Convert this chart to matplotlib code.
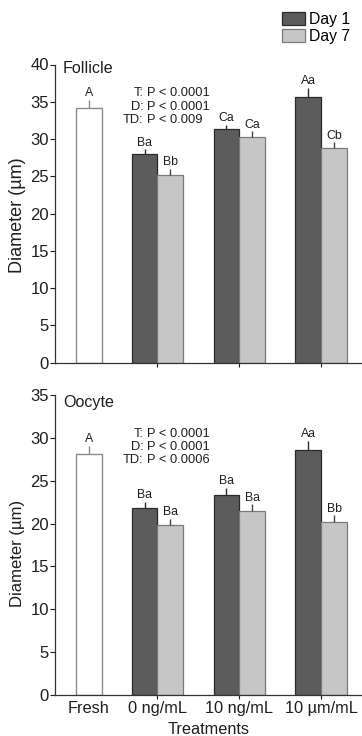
import matplotlib
matplotlib.use("Agg")
import matplotlib.pyplot as plt
from matplotlib.patches import Patch
import numpy as np

plt.rcParams['font.family'] = ['Liberation Sans', 'DejaVu Sans']

treatments = ["0 ng/mL", "10 ng/mL", "10 µm/mL"]
tick_labels = ["Fresh", "0 ng/mL", "10 ng/mL", "10 µm/mL"]

# Follicle
fol_fresh, fol_fresh_err = 34.2, 1.1
fol_day1 = [28.0, 31.3, 35.7]
fol_day1_err = [0.65, 0.6, 1.2]
fol_day7 = [25.2, 30.3, 28.8]
fol_day7_err = [0.8, 0.75, 0.75]
fol_fresh_lbl = "A"
fol_day1_lbl = ["Ba", "Ca", "Aa"]
fol_day7_lbl = ["Bb", "Ca", "Cb"]
fol_stats = [("T:", "P < 0.0001"), ("D:", "P < 0.0001"), ("TD:", "P < 0.009")]

# Oocyte
ooc_fresh, ooc_fresh_err = 28.1, 1.0
ooc_day1 = [21.8, 23.3, 28.6]
ooc_day1_err = [0.75, 0.9, 1.05]
ooc_day7 = [19.8, 21.5, 20.2]
ooc_day7_err = [0.75, 0.75, 0.8]
ooc_fresh_lbl = "A"
ooc_day1_lbl = ["Ba", "Ba", "Aa"]
ooc_day7_lbl = ["Ba", "Ba", "Bb"]
ooc_stats = [("T:", "P < 0.0001"), ("D:", "P < 0.0001"), ("TD:", "P < 0.0006")]

W, H = 362, 736
fig = plt.figure(figsize=(W / 100, H / 100), dpi=100)

def fx(x):
    return x / W

def fy(y):
    return 1 - y / H

DARK = "#5c5c5c"
LIGHT = "#c6c6c6"
TXT = "#1e1e1e"
bw = 0.317
fresh_x = 0.165
grp_x = np.array([1.0, 2.0, 3.0])

def panel(rect, ymax, fresh, fresh_err, d1, d1e, d7, d7e, flbl, l1, l7, title, title_top,
          stats, stat_y, show_x, ylab_fs, ylab_y):
    ax = fig.add_axes(rect)
    ax.set_xlim(-0.25, 3.494)
    ax.set_ylim(0, ymax)
    ax.bar([fresh_x], [fresh], width=bw, color="white", edgecolor="#8a8a8a", linewidth=1.0, zorder=2)
    ax.bar(grp_x - bw / 2, d1, width=bw, color=DARK, edgecolor="#2a2a2a", linewidth=0.9, zorder=2)
    ax.bar(grp_x + bw / 2, d7, width=bw, color=LIGHT, edgecolor="#7a7a7a", linewidth=0.9, zorder=2)
    ax.vlines([fresh_x], [fresh], [fresh + fresh_err], color="#8a8a8a", lw=1.0, zorder=3)
    ax.vlines(grp_x - bw / 2, d1, np.array(d1) + np.array(d1e), color="#2a2a2a", lw=1.0, zorder=3)
    ax.vlines(grp_x + bw / 2, d7, np.array(d7) + np.array(d7e), color="#444444", lw=1.0, zorder=3)
    fs_l = 8.8
    ax.annotate(flbl, (fresh_x, fresh + fresh_err), xytext=(0, 0.3), textcoords="offset points",
                ha="center", va="bottom", fontsize=fs_l, color=TXT)
    for x, v, e, t in zip(grp_x - bw / 2, d1, d1e, l1):
        ax.annotate(t, (x, v + e), xytext=(0, 0.3), textcoords="offset points",
                    ha="center", va="bottom", fontsize=fs_l, color=TXT)
    for x, v, e, t in zip(grp_x + bw / 2, d7, d7e, l7):
        ax.annotate(t, (x, v + e), xytext=(0, 0.3), textcoords="offset points",
                    ha="center", va="bottom", fontsize=fs_l, color=TXT)
    for s in ["top", "right"]:
        ax.spines[s].set_visible(False)
    for s in ["left", "bottom"]:
        ax.spines[s].set_color("#333333")
        ax.spines[s].set_linewidth(0.9)
    ax.set_yticks(np.arange(0, ymax + 1, 5))
    ax.tick_params(axis="y", direction="out", length=3.5, width=0.8, pad=0.8, labelsize=12, colors=TXT)
    ax.set_xticks(grp_x)
    ax.tick_params(axis="x", direction="out", length=3, width=0.8, colors=TXT)
    if show_x:
        ax.set_xticks([fresh_x] + list(grp_x))
        ax.set_xticklabels(tick_labels, fontsize=11.8)
        ax.xaxis.get_major_ticks()[0].tick1line.set_visible(False)
        ax.tick_params(axis="x", pad=1.5)
        fig.text(fx(209), fy(734.5), "Treatments", ha="center", va="baseline",
                 fontsize=11.7, color=TXT)
    else:
        ax.set_xticklabels([])
    fig.text(fx(17.5), fy(ylab_y), "Diameter (µm)", rotation=90, ha="center", va="center",
             fontsize=ylab_fs, color=TXT)
    fig.text(fx(63), fy(title_top), title, ha="left", va="top", fontsize=11.6, color=TXT)
    for i, (a, b) in enumerate(stats):
        y = fy(stat_y + i * 13.3)
        fig.text(fx(143.5), y, a, ha="right", va="center", fontsize=9.3, color=TXT)
        fig.text(fx(147), y, b, ha="left", va="center", fontsize=9.3, color=TXT)
    return ax

top_rect = [fx(55), fy(362.7), fx(362) - fx(55), fy(64.5) - fy(362.7)]
bot_rect = [fx(55), fy(695), fx(362) - fx(55), fy(395) - fy(695)]

panel(top_rect, 40, fol_fresh, fol_fresh_err, fol_day1, fol_day1_err, fol_day7, fol_day7_err,
      fol_fresh_lbl, fol_day1_lbl, fol_day7_lbl, "Follicle", 61, fol_stats, 93.5, False, 13, 215)
panel(bot_rect, 35, ooc_fresh, ooc_fresh_err, ooc_day1, ooc_day1_err, ooc_day7, ooc_day7_err,
      ooc_fresh_lbl, ooc_day1_lbl, ooc_day7_lbl, "Oocyte", 395, ooc_stats, 433.5, True, 12, 553)

handles = [Patch(facecolor=DARK, edgecolor="#2a2a2a", linewidth=0.9, label="Day 1"),
           Patch(facecolor=LIGHT, edgecolor="#7a7a7a", linewidth=0.9, label="Day 7")]
fig.legend(handles=handles, loc="upper left", bbox_to_anchor=(fx(282), fy(12)),
           frameon=False, fontsize=11.3, borderpad=0, borderaxespad=0,
           handlelength=1.45, handleheight=0.9, handletextpad=0.3, labelspacing=0.12)

fig.savefig("out.png", dpi=100)
